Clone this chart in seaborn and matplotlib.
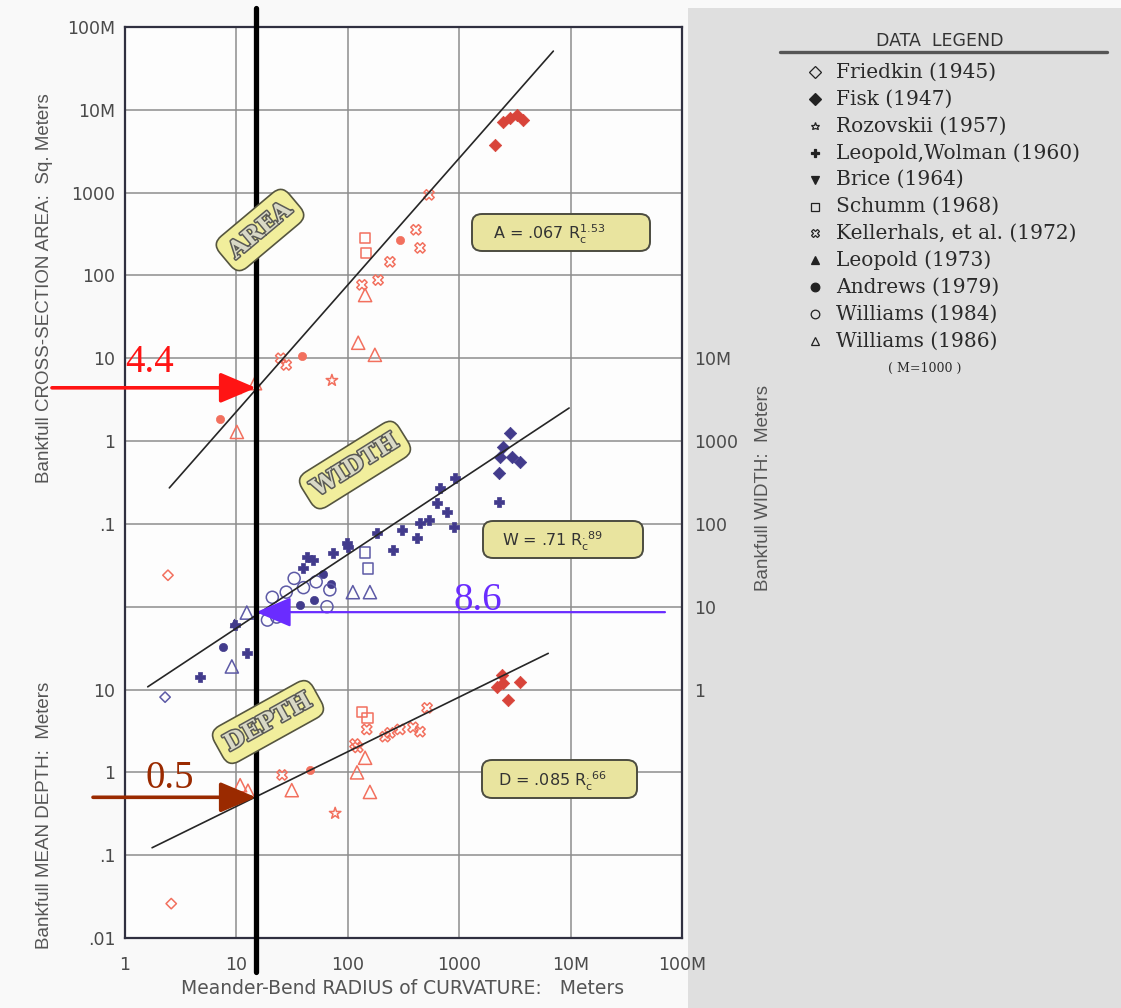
import numpy as np
import pandas as pd
import matplotlib
matplotlib.use("Agg")
import matplotlib.pyplot as plt
import seaborn as sns
from matplotlib.patches import FancyBboxPatch, Rectangle
from matplotlib.lines import Line2D
from matplotlib.ticker import NullLocator
import matplotlib.patheffects as pe

W_PX, H_PX = 1121, 1008

# ---------------------------------------------------------------------------
# Meander-bend radius of curvature Rc (m) against bankfull channel geometry
# ---------------------------------------------------------------------------
# Friedkin (1945)
friedkin_area_rc = [2.43]
friedkin_area = [0.024]
friedkin_width_rc = [2.29]
friedkin_width = [0.81]
friedkin_depth_rc = [2.6]
friedkin_depth = [0.026]

# Fisk (1947)
fisk_area_rc = [2100, 2460, 2860, 3300, 3740]
fisk_area = [3800, 7200, 7950, 8700, 7600]
fisk_width_rc = [2860, 2470, 2320, 2980, 3510, 2280]
fisk_width = [1260, 850, 645, 640, 560, 415]
fisk_depth_rc = [2420, 2180, 2470, 3510, 2750]
fisk_depth = [15.0, 10.7, 12.0, 12.3, 7.5]

# Rozovskii (1957)
rozovskii_area_rc = [72]
rozovskii_area = [5.4]
rozovskii_depth_rc = [77]
rozovskii_depth = [0.32]

# Leopold, Wolman (1960)
lw_width_rc = [2280, 917, 673, 632, 780, 898, 536, 445, 418, 307, 183, 255,
               98, 100, 74, 49, 40, 43, 9.7, 12.4, 4.7]
lw_width = [185, 360, 270, 180, 138, 92, 112, 103, 68, 85, 78, 49,
            59, 53, 45, 37, 29, 40, 6.0, 2.8, 1.4]

# Schumm (1968)
schumm_area_rc = [143, 146]
schumm_area = [285, 188]
schumm_width_rc = [143, 152]
schumm_width = [45, 29]
schumm_depth_rc = [134, 150]
schumm_depth = [5.4, 4.5]

# Kellerhals, et al. (1972)
kell_area_rc = [25, 28, 134, 187, 239, 409, 445, 536]
kell_area = [10.0, 8.3, 77, 88, 146, 356, 215, 940]
kell_depth_rc = [25.7, 116, 123, 148, 216, 239, 294, 385, 445, 515]
kell_depth = [0.93, 2.2, 2.0, 3.3, 2.7, 3.0, 3.3, 3.5, 3.1, 6.0]

# Leopold (1973)
leopold_area_rc = [10.1]
leopold_area = [4.2]
leopold_width_rc = [9.5]
leopold_width = [6.3]
leopold_depth_rc = [8.4]
leopold_depth = [0.58]

# Andrews (1979)
andrews_area_rc = [7.1, 38.8, 295]
andrews_area = [1.85, 10.7, 270]
andrews_width_rc = [37, 7.6, 50, 70, 60]
andrews_width = [10.5, 3.25, 12, 19, 25]
andrews_depth_rc = [7.6, 46]
andrews_depth = [0.52, 1.07]

# Williams (1984)
w84_width_rc = [21, 28, 40, 65, 69, 23, 19, 33, 52]
w84_width = [13, 15, 17, 10, 16, 7.5, 6.9, 22, 20]

# Williams (1986)
w86_area_rc = [143, 124, 175, 14.7, 10.1]
w86_area = [58, 15.4, 11, 5.0, 1.29]
w86_width_rc = [12.4, 9.1, 111, 158]
w86_width = [8.5, 1.9, 15, 15]
w86_depth_rc = [10.8, 12.7, 31.4, 121, 158, 143]
w86_depth = [0.7, 0.6, 0.61, 1.0, 0.58, 1.5]

# regression equations  A = .067 Rc^1.53, W = .71 Rc^.89, D = .085 Rc^.66
area_coef, area_exp = 0.067, 1.53
width_coef, width_exp = 0.71, 0.89
depth_coef, depth_exp = 0.085, 0.66
area_fit_rc = [2.5, 7000]
width_fit_rc = [1.6, 9700]
depth_fit_rc = [1.75, 6300]

# values read at the highlighted radius
rc_marker = 15
area_at_marker = 4.4
width_at_marker = 8.6
depth_at_marker = 0.5

x_tick_vals = [1, 10, 100, 1000, 1e4, 1e5]
x_tick_labels = ["1", "10", "100", "1000", "10M", "100M"]
left_tick_labels = [".01", ".1", "1", "10", "", ".1", "1", "10", "100", "1000", "10M", "100M"]
right_tick_labels = ["1", "10", "100", "1000", "10M"]

# the three panels share one log axis: depth in decades 0-3, width 3-7, area 5-11
offset = {"area": 1e6, "width": 1e3, "depth": 1e2}

series = [
    ("Friedkin (1945)", "area", friedkin_area_rc, friedkin_area),
    ("Friedkin (1945)", "width", friedkin_width_rc, friedkin_width),
    ("Friedkin (1945)", "depth", friedkin_depth_rc, friedkin_depth),
    ("Fisk (1947)", "area", fisk_area_rc, fisk_area),
    ("Fisk (1947)", "width", fisk_width_rc, fisk_width),
    ("Fisk (1947)", "depth", fisk_depth_rc, fisk_depth),
    ("Rozovskii (1957)", "area", rozovskii_area_rc, rozovskii_area),
    ("Rozovskii (1957)", "depth", rozovskii_depth_rc, rozovskii_depth),
    ("Leopold,Wolman (1960)", "width", lw_width_rc, lw_width),
    ("Schumm (1968)", "area", schumm_area_rc, schumm_area),
    ("Schumm (1968)", "width", schumm_width_rc, schumm_width),
    ("Schumm (1968)", "depth", schumm_depth_rc, schumm_depth),
    ("Kellerhals, et al. (1972)", "area", kell_area_rc, kell_area),
    ("Kellerhals, et al. (1972)", "depth", kell_depth_rc, kell_depth),
    ("Leopold (1973)", "area", leopold_area_rc, leopold_area),
    ("Leopold (1973)", "width", leopold_width_rc, leopold_width),
    ("Leopold (1973)", "depth", leopold_depth_rc, leopold_depth),
    ("Andrews (1979)", "area", andrews_area_rc, andrews_area),
    ("Andrews (1979)", "width", andrews_width_rc, andrews_width),
    ("Andrews (1979)", "depth", andrews_depth_rc, andrews_depth),
    ("Williams (1984)", "width", w84_width_rc, w84_width),
    ("Williams (1986)", "area", w86_area_rc, w86_area),
    ("Williams (1986)", "width", w86_width_rc, w86_width),
    ("Williams (1986)", "depth", w86_depth_rc, w86_depth),
]

df = pd.concat(
    [pd.DataFrame({"source": s, "quantity": q, "rc": rc, "value": v})
     for s, q, rc, v in series],
    ignore_index=True,
)
df["y"] = df["value"] * df["quantity"].map(offset)

symbols = {
    "Friedkin (1945)": ("D", False, 28),
    "Fisk (1947)": ("D", True, 40),
    "Rozovskii (1957)": ("*", False, 75),
    "Leopold,Wolman (1960)": ("P", True, 60),
    "Brice (1964)": ("v", True, 45),
    "Schumm (1968)": ("s", False, 55),
    "Kellerhals, et al. (1972)": ("X", False, 55),
    "Leopold (1973)": ("^", True, 40),
    "Andrews (1979)": ("o", True, 35),
    "Williams (1984)": ("o", False, 75),
    "Williams (1986)": ("^", False, 90),
}

SALMON = "#f2705e"
DARK_RED = "#d8443a"
NAVY = "#423b8c"
NAVY_OPEN = "#5d5aa6"

sns.set_style("white")
plt.rcParams["font.family"] = ["DejaVu Sans"]
plt.rcParams["mathtext.fontset"] = "dejavusans"


def fx(x):
    return x / W_PX


def fy(y):
    return 1 - y / H_PX


fig = plt.figure(figsize=(W_PX / 100, H_PX / 100), dpi=100, facecolor="#f9f9f9")
fig.patches.append(Rectangle((fx(688), 0), 1 - fx(688), fy(8), transform=fig.transFigure,
                             facecolor="#dfdfdf", edgecolor="none", zorder=-10))

ax = fig.add_axes([fx(125), fy(938), (682 - 125) / W_PX, (938 - 27) / H_PX])
ax.set_facecolor("#fdfdfd")
ax.set_xscale("log")
ax.set_yscale("log")

# scatter of every data set
for (src, qty), sub in df.groupby(["source", "quantity"], sort=False):
    marker, filled, size = symbols[src]
    if qty == "width":
        col = NAVY if filled else NAVY_OPEN
    else:
        col = DARK_RED if src == "Fisk (1947)" else SALMON
    if filled:
        sns.scatterplot(data=sub, x="rc", y="y", ax=ax, marker=marker, s=size,
                        color=col, edgecolor=col, linewidth=0.5, legend=False, zorder=3)
    else:
        sns.scatterplot(data=sub, x="rc", y="y", ax=ax, marker=marker, s=size,
                        color=col, facecolors="none", edgecolor=col, linewidth=1.1,
                        legend=False, zorder=3)

# regression lines
for rng, coef, ex, qty in [(area_fit_rc, area_coef, area_exp, "area"),
                           (width_fit_rc, width_coef, width_exp, "width"),
                           (depth_fit_rc, depth_coef, depth_exp, "depth")]:
    rc = np.array(rng, dtype=float)
    sns.lineplot(x=rc, y=coef * rc ** ex * offset[qty], ax=ax, color="#262626",
                 lw=1.2, zorder=4)

ax.set_xlim(1, 1e5)
ax.set_ylim(1, 1e11)
ax.set_xticks(x_tick_vals, x_tick_labels)
ax.set_yticks([10.0 ** k for k in range(12)], left_tick_labels)
ax.xaxis.set_minor_locator(NullLocator())
ax.yaxis.set_minor_locator(NullLocator())
ax.tick_params(axis="both", length=0, labelsize=12.5, labelcolor="#4a4a4a")
ax.tick_params(axis="x", pad=13)
ax.tick_params(axis="y", pad=7)
ax.grid(True, which="major", color="#8e8e8e", lw=1.1)
ax.set_axisbelow(True)
ax.set_xlabel("")
ax.set_ylabel("")
for sp in ax.spines.values():
    sp.set_color("#303040")
    sp.set_linewidth(1.6)

axr = ax.twinx()
axr.set_yscale("log")
axr.set_ylim(1, 1e11)
axr.set_yticks([10.0 ** k for k in range(3, 8)], right_tick_labels)
axr.yaxis.set_minor_locator(NullLocator())
axr.tick_params(axis="y", length=0, labelsize=12.5, labelcolor="#4a4a4a", pad=9)
axr.grid(False)
for sp in axr.spines.values():
    sp.set_visible(False)

# axis titles
narrow = ["Liberation Sans Narrow", "Liberation Sans", "DejaVu Sans"]
fig.text(fx(45), fy(288), "Bankfull CROSS-SECTION AREA:  Sq. Meters", rotation=90,
         ha="center", va="center", fontsize=13.5, color="#555555", family=narrow)
fig.text(fx(45), fy(815), "Bankfull MEAN DEPTH:  Meters", rotation=90,
         ha="center", va="center", fontsize=13.5, color="#555555", family=narrow)
fig.text(fx(764), fy(488), "Bankfull WIDTH:  Meters", rotation=90,
         ha="center", va="center", fontsize=13.5, color="#555555", family=narrow)
fig.text(fx(403), fy(988), "Meander-Bend RADIUS of CURVATURE:   Meters",
         ha="center", va="center", fontsize=13.5, color="#555555")

# rotated panel tags
for label, cx, cy, ang in [("AREA", 260, 230, 40), ("WIDTH", 355, 465, 32),
                           ("DEPTH", 268, 722, 29)]:
    t = fig.text(fx(cx), fy(cy), label, rotation=ang, rotation_mode="anchor",
                 ha="center", va="center", fontsize=17, family="DejaVu Serif",
                 fontweight="bold", color="#d9d9c6", zorder=6,
                 bbox=dict(boxstyle="round,pad=0.35,rounding_size=0.5",
                           facecolor="#f1ee9c", edgecolor="#55553f", lw=1.2))
    t.set_path_effects([pe.withStroke(linewidth=2.2, foreground="#5a5a55")])

# regression equation boxes
eq_boxes = [
    (472, 214, 178, 37, 493, r"A = .067 R$_\mathregular{c}^{\mathregular{1.53}}$"),
    (483, 521, 160, 37, 502, r"W = .71 R$_\mathregular{c}^{\mathregular{.89}}$"),
    (482, 760, 155, 38, 498, r"D = .085 R$_\mathregular{c}^{\mathregular{.66}}$"),
]
for x0, y0, w, h, tx, txt in eq_boxes:
    fig.patches.append(FancyBboxPatch((fx(x0), fy(y0 + h)), w / W_PX, h / H_PX,
                                      boxstyle="round,pad=0,rounding_size=0.009",
                                      transform=fig.transFigure, facecolor="#e9e49f",
                                      edgecolor="#4c4c40", lw=1.4, zorder=5))
    fig.text(fx(tx), fy(y0 + h / 2 + 2), txt, ha="left", va="center", fontsize=11.5,
             color="#333333", zorder=6)

# read-off arrows at the highlighted radius
arrow_specs = [
    (area_at_marker * offset["area"], 0.221, "#ff1414", 2.6),
    (width_at_marker * offset["width"], 70300, "#6a2cff", 1.6),
    (depth_at_marker * offset["depth"], 0.516, "#9a2a00", 2.6),
]
for yv, tail, col, lw in arrow_specs:
    ax.annotate("", xy=(rc_marker, yv), xytext=(tail, yv), annotation_clip=False,
                arrowprops=dict(arrowstyle="-|>,head_length=1.3,head_width=0.55",
                                color=col, lw=lw, mutation_scale=17,
                                shrinkA=0, shrinkB=0), zorder=7)

fig.text(fx(150), fy(362), f"{area_at_marker:g}", ha="center", va="center",
         fontsize=28, color="#ff1414", family="Liberation Serif", zorder=8)
fig.text(fx(478), fy(600), f"{width_at_marker:g}", ha="center", va="center",
         fontsize=28, color="#6a2cff", family="Liberation Serif", zorder=8)
fig.text(fx(170), fy(778), f"{depth_at_marker:g}", ha="center", va="center",
         fontsize=28, color="#9a2a00", family="Liberation Serif", zorder=8)

# highlighted radius
ax.axvline(rc_marker, ymin=-0.037, ymax=1.021, clip_on=False, color="black",
           lw=3.8, zorder=9)

# data legend
fig.text(fx(940), fy(41), "DATA  LEGEND", ha="center", va="center", fontsize=12.5,
         color="#333333")
fig.add_artist(Line2D([fx(780), fx(1107)], [fy(52), fy(52)], transform=fig.transFigure,
                      color="#555555", lw=2.4))
legend_order = list(symbols.keys())
for i, name in enumerate(legend_order):
    marker, filled, size = symbols[name]
    yy = 72 + 26.9 * i
    fig.add_artist(Line2D([fx(815)], [fy(yy)], transform=fig.transFigure,
                          marker=marker, ms=6.2, mew=0.9, color="#222222",
                          mfc="#222222" if filled else "none", mec="#222222", lw=0))
    fig.text(fx(836), fy(yy), name, ha="left", va="center", fontsize=14.5,
             family="DejaVu Serif", color="#2a2a2a")
fig.text(fx(925), fy(368), "( M=1000 )", ha="center", va="center", fontsize=9,
         family="DejaVu Serif", color="#2a2a2a")

fig.savefig("out.png", dpi=100, facecolor=fig.get_facecolor())
